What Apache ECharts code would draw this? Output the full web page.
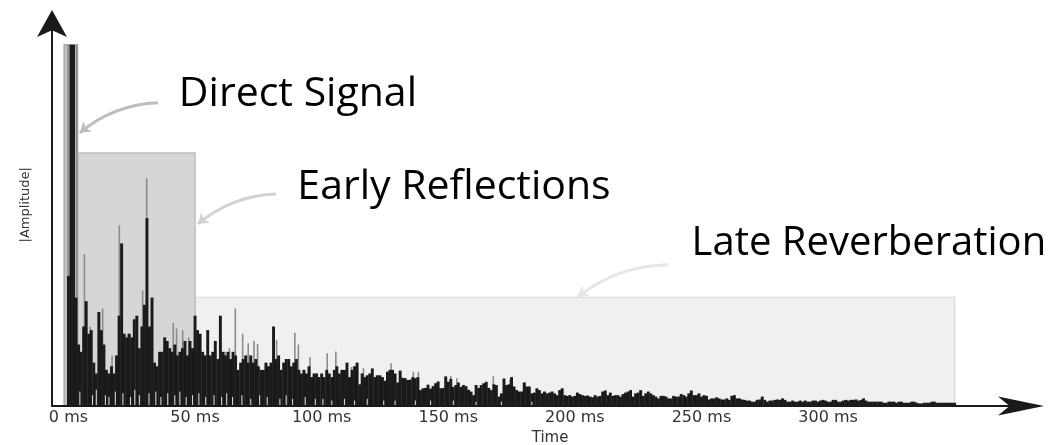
<!DOCTYPE html>
<html>
<head>
<meta charset="utf-8">
<title>Room impulse response</title>
<script src="https://cdn.jsdelivr.net/npm/echarts@6/dist/echarts.min.js"></script>
<style>
  html, body { margin: 0; padding: 0; background: #ffffff; }
  #chart { width: 1058px; height: 445px; }
</style>
</head>
<body>
<div id="chart"></div>
<script>
// Tick positions on the time axis (ms)
const timeTicks = [0, 50, 100, 150, 200, 250, 300];

// |amplitude| of the response, one value per millisecond starting at 0 ms (direct sound = 100)
const envelope = [
  36, 100, 100, 30, 17, 15, 22, 29, 20, 21,
  12, 9, 26, 21, 17, 10, 9, 11, 9, 14,
  25, 45, 20, 19, 20, 19, 24, 25, 16, 22,
  28, 52, 22, 30, 12, 11, 15, 15, 19, 18,
  16, 15, 17, 14, 15, 16, 18, 14, 18, 16,
  25, 21, 20, 15, 14, 21, 14, 15, 18, 13,
  25, 15, 14, 15, 13, 15, 14, 10, 12, 13,
  14, 12, 14, 12, 13, 11, 10, 10, 12, 11,
  12, 22, 13, 14, 10, 12, 13, 13, 11, 12,
  13, 10, 9, 10, 9, 11, 8, 9, 9, 8,
  9, 8, 10, 9, 8, 10, 11, 9, 10, 10,
  12, 8, 10, 11, 12, 6, 9, 8, 8.5, 9,
  10.4, 8, 8.5, 8.5, 8, 7, 9.5, 10, 10, 9,
  6.5, 9.8, 7.8, 7.7, 7.2, 7.3, 8, 7.7, 8, 4.4,
  4.9, 5, 5.9, 4.8, 5.5, 6.3, 6.8, 4.9, 5, 8.2,
  6.7, 7.5, 5.3, 5.8, 6.5, 5.3, 5.8, 5.5, 4.5, 4,
  3, 5.8, 5, 5.8, 6.3, 6.7, 5, 4.4, 6, 5.8,
  2.6, 3.5, 7.6, 5.8, 6, 8, 5.4, 4.4, 4, 4,
  6.5, 5.4, 5.4, 3.5, 3.7, 4.9, 4.4, 3.5, 4, 3.5,
  3.7, 4, 3.5, 3, 4.4, 4.9, 3, 2.8, 3, 2.6,
  2.8, 3.7, 3.3, 3, 2.8, 2.9, 2.6, 2.4, 3, 2.6,
  2.8, 4, 4.3, 3, 3.7, 2.8, 3, 3, 2.6, 3.3,
  3.7, 4, 4.4, 2.6, 3.5, 3.7, 4.4, 2.8, 3.5, 4,
  3.5, 3, 2.6, 2.1, 2.8, 2.8, 2.6, 2.1, 2.1, 2.8,
  2.6, 2.6, 3.3, 3, 2.6, 3.5, 4.3, 3, 3, 3.5,
  2.6, 3, 2.8, 1.8, 2.1, 2.1, 2.4, 2.1, 1.8, 1.8,
  2.1, 1.7, 2.8, 3, 2.1, 2.1, 1.8, 1.7, 1.5, 1.5,
  1.2, 1.2, 1.7, 1.8, 2.6, 1.7, 1.2, 1.5, 1.5, 1.7,
  1.8, 1.7, 2.1, 1.7, 1.2, 1.2, 1.5, 1.2, 1.2, 1.5,
  1.2, 1.5, 1.2, 1.2, 1.5, 1.5, 1.2, 1.5, 1.7, 1.5,
  1.2, 1.2, 1.7, 1.7, 1.2, 1.2, 1.5, 1.7, 1.5, 1.7,
  1.7, 1.8, 1.5, 1.7, 2.1, 1.5, 1.2, 1.2, 1.2, 1.2,
  1.2, 1.2, 0.9, 0.9, 1.2, 1.2, 1.2, 0.9, 1.2, 1.2,
  0.9, 0.9, 0.9, 1.2, 1.2, 0.9, 0.7, 0.7, 0.9, 0.9,
  0.9, 1.2, 1.2, 0.9, 0.9, 0.9, 0.9, 0.9, 0.9, 0.9, 0.9
];

// Isolated taller reflections [ms, |amplitude|]
const spikes = [
  [-0.1, 100], [3.2, 100],
  [6.3, 42], [8.6, 22], [13.5, 27], [17.2, 14], [20.1, 50], [23.6, 20],
  [29.3, 32], [30.9, 63], [41.4, 23], [42.7, 21.5], [45.1, 21], [47.5, 19],
  [61.8, 15], [63.6, 16], [65.9, 27], [68.8, 20], [71.0, 17.4], [73.3, 18],
  [74.7, 17.2], [82.2, 18.3], [89.4, 20.3], [90.8, 17], [95.4, 13.5],
  [102.2, 14.6], [105.6, 15.1], [111.8, 10.8], [116.5, 10.5], [127.4, 11.8],
  [136.2, 9.5], [138.2, 9.5], [151, 8.3], [153.4, 7.7], [167.8, 8.2],
  [174.4, 7.3], [180.3, 6.5], [201, 3.7], [262.6, 3.0]
];

// Light low-level gaps near the floor of the response [ms, |amplitude|]
const speckles = [
  [4.5, 4], [9.5, 3], [11, 4.5], [14.6, 3], [16, 2.5], [18.5, 4], [21.5, 3.5],
  [24.5, 2.5], [26.2, 4.5], [28, 3], [31.8, 3.5], [34.5, 4], [36.5, 2.5],
  [39.2, 3.5], [42, 3], [44, 4], [46.5, 2.5], [49, 3], [51.5, 3.5], [54.2, 2.5],
  [57.5, 3], [60.5, 2.5], [62.5, 3.5], [64.8, 2.5], [68.5, 3], [72, 2],
  [75.5, 3], [78.5, 2.5], [83.5, 2], [86, 3], [88.5, 2], [93.5, 2.5],
  [97.5, 2], [100.5, 2], [104, 1.5], [109, 2], [113, 1.5], [118, 2],
  [124.5, 1.5], [129, 1.5], [137, 1.5], [143, 1.5], [152, 1.5], [161, 1.2],
  [171, 1.2], [183, 1.2]
];

// Segments of the response
const regionNames = ['Direct Signal', 'Early Reflections', 'Late Reverberation'];
const regionStart = [-1.7, 3.6, 50];
const regionEnd = [3.6, 50, 350];
const regionLevel = [100, 70, 30];

// Annotation anchors (data coordinates: ms, |amplitude|)
const labelAt = [[43.6, 86.3], [90.4, 60.6], [246.1, 45.0]];
const arrowFrom = [[35.4, 83.9], [82.0, 58.7], [236.8, 39.1]];
const arrowTo = [[4.5, 75.6], [51.1, 50.4], [201.2, 30.2]];

// Styling
const regionFill = ['#c2c2c2', '#d6d6d6', '#f0f0f0'];
const regionStroke = ['#ababab', '#bdbdbd', '#dddddd'];
const arrowColor = ['#bdbdbd', '#d2d2d2', '#e6e6e6'];
const labelSize = [41, 41, 40];
const ink = '#1b1919';

const X_MIN = -6.5, X_MAX = 376.2, Y_MAX = 106;

const chart = echarts.init(document.getElementById('chart'), null, { renderer: 'canvas' });

// One-millisecond column for the main response (contiguous, slightly overlapping)
function renderColumn(params, api) {
  const t = api.value(0), v = api.value(1);
  const a = api.coord([t - 0.5, v]);
  const b = api.coord([t + 0.5, 0]);
  return {
    type: 'rect',
    shape: { x: a[0] - 0.2, y: a[1], width: b[0] - a[0] + 0.4, height: b[1] - a[1] },
    style: { fill: ink }
  };
}

// Thin line-like column of fixed pixel width
function thinColumn(width, color) {
  return function (params, api) {
    const top = api.coord([api.value(0), api.value(1)]);
    const base = api.coord([api.value(0), 0]);
    return {
      type: 'rect',
      shape: { x: top[0] - width / 2, y: top[1], width: width, height: base[1] - top[1] },
      style: { fill: color }
    };
  };
}

const option = {
  animation: false,
  backgroundColor: '#ffffff',
  grid: { left: 52, right: 37, top: 23, bottom: 39 },
  xAxis: {
    type: 'value', min: X_MIN, max: X_MAX, z: 10,
    axisLine: {
      show: true, onZero: false,
      symbol: ['none', 'arrow'], symbolSize: [14.3, 46], symbolOffset: [0, 23],
      lineStyle: { color: ink, width: 2 }
    },
    axisTick: { show: false },
    splitLine: { show: false },
    axisLabel: {
      customValues: timeTicks,
      formatter: function (v) { return v + ' ms'; },
      color: '#333333', fontFamily: 'DejaVu Sans', fontSize: 16, margin: 4
    }
  },
  yAxis: {
    type: 'value', min: 0, max: Y_MAX, z: 10,
    axisLine: {
      show: true, onZero: false,
      symbol: ['none', 'arrow'], symbolSize: [22.5, 27], symbolOffset: [0, 13],
      lineStyle: { color: ink, width: 2 }
    },
    axisTick: { show: false },
    axisLabel: { show: false },
    splitLine: { show: false }
  },
  series: [
    {
      name: 'regions',
      type: 'custom',
      silent: true,
      z: 1,
      data: regionNames.map(function (n, i) { return [regionStart[i], regionEnd[i], regionLevel[i], i]; }),
      renderItem: function (params, api) {
        const i = api.value(3);
        const p0 = api.coord([api.value(0), api.value(2)]);
        const p1 = api.coord([api.value(1), 0]);
        return {
          type: 'rect',
          z2: 3 - i,
          shape: { x: p0[0], y: p0[1], width: p1[0] - p0[0], height: p1[1] - p0[1] },
          style: { fill: regionFill[i], stroke: regionStroke[i], lineWidth: 1.5 }
        };
      }
    },
    {
      name: 'reflections',
      type: 'custom',
      z: 3,
      silent: true,
      renderItem: thinColumn(1.6, '#8b8b8b'),
      data: spikes
    },
    {
      name: 'response',
      type: 'custom',
      z: 4,
      silent: true,
      renderItem: renderColumn,
      data: envelope.map(function (v, i) { return [i, v]; })
    },
    {
      name: 'floor',
      type: 'custom',
      z: 5,
      silent: true,
      renderItem: thinColumn(1.1, '#d4d4d4'),
      data: speckles
    },
    {
      name: 'pointers',
      type: 'lines',
      coordinateSystem: 'cartesian2d',
      z: 6,
      silent: true,
      symbol: ['none', 'arrow'],
      symbolSize: 10,
      lineStyle: { width: 3, curveness: -0.17, opacity: 1 },
      data: arrowFrom.map(function (p, i) {
        return { coords: [p, arrowTo[i]], lineStyle: { color: arrowColor[i] } };
      })
    }
  ]
};

chart.setOption(option);

// Text annotations placed through the chart's own coordinate system
const px = function (pt) { return chart.convertToPixel({ gridIndex: 0 }, pt); };
const graphics = regionNames.map(function (name, i) {
  const p = px(labelAt[i]);
  return {
    type: 'text', x: p[0], y: p[1], z: 20, silent: true,
    style: {
      text: name, font: labelSize[i] + 'px "Open Sans"', fill: '#000000',
      textAlign: 'left', align: 'left', textVerticalAlign: 'middle', verticalAlign: 'middle'
    }
  };
});
const timePos = px([190.2, -8.9]);
graphics.push({
  type: 'text', x: timePos[0], y: timePos[1], z: 20, silent: true,
  style: {
    text: 'Time', font: '15px "DejaVu Sans"', fill: '#333333',
    textAlign: 'center', align: 'center', textVerticalAlign: 'middle', verticalAlign: 'middle'
  }
});
const ampPos = px([-16.8, 55.7]);
graphics.push({
  type: 'text', x: ampPos[0], y: ampPos[1], rotation: Math.PI / 2, z: 20, silent: true,
  style: {
    text: '|Amplitude|', font: '13px "DejaVu Sans"', fill: '#333333',
    textAlign: 'center', align: 'center', textVerticalAlign: 'middle', verticalAlign: 'middle'
  }
});
chart.setOption({ graphic: graphics });
</script>
</body>
</html>
